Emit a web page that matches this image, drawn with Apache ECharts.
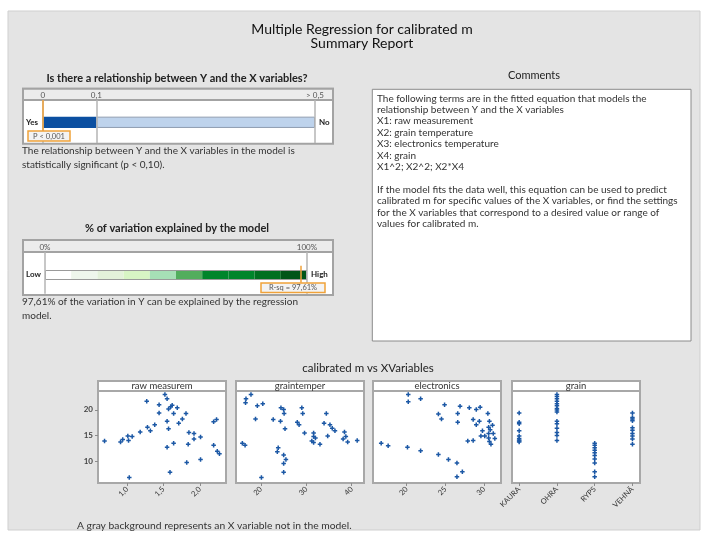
<!DOCTYPE html>
<html>
<head>
<meta charset="utf-8">
<script src="https://cdn.jsdelivr.net/npm/echarts@6/dist/echarts.min.js"></script>
<style>
  html, body { margin: 0; padding: 0; background: #ffffff; }
  #chart { width: 705px; height: 533px; }
</style>
</head>
<body>
<div id="chart"></div>
<script>
// ---- Model summary values ----
const pValue = 0.001;                 // reported as P < 0,001
const pScaleBreaks = [0, 0.1, 0.5];   // significance scale: 0 | 0,1 | > 0,5
const alpha = 0.10;
const rsq = 97.61;                    // R-sq in %
const rsqBandEdges = [0, 10, 20, 30, 40, 50, 60, 70, 80, 90, 100];

// ---- Comments ----
const commentLines = [
  'The following terms are in the fitted equation that models the',
  'relationship between Y and the X variables',
  'X1: raw measurement',
  'X2: grain temperature',
  'X3: electronics temperature',
  'X4: grain',
  'X1^2; X2^2; X2*X4',
  '',
  'If the model fits the data well, this equation can be used to predict',
  'calibrated m for specific values of the X variables, or find the settings',
  'for the X variables that correspond to a desired value or range of',
  'values for calibrated m.'
];

// ---- calibrated m vs X variables ----
const panelTitles = ['raw measurem', 'graintemper', 'electronics', 'grain'];
const yTicks = [10, 15, 20];

const rawMeasX = [1.52,1.55,1.27,1.44,1.62,1.60,1.57,1.69,1.44,1.64,1.81,1.76,1.71,1.55,2.23,2.19,1.38,1.28,1.32,1.57,1.18,1.07,1.01,1.02,0.94,0.91,0.69,1.85,1.92,2.01,1.92,1.84,1.64,1.55,2.19,2.24,2.27,1.82,2.01,1.59,1.03];
const rawMeasY = [23.0,22.2,21.7,21.0,20.9,20.6,20.2,20.4,19.4,19.3,19.3,18.2,17.4,17.8,18.1,17.7,17.1,16.6,15.9,16.3,15.7,14.8,14.9,14.0,14.2,13.7,13.9,15.6,15.4,14.7,14.3,13.3,13.5,12.7,13.1,11.9,11.4,9.7,10.3,7.8,6.8];
const rawMeasTicks = [1.0, 1.5, 2.0];

const grainTempX = [16.7,16.6,17.8,19.2,20.4,18.8,24.4,25.0,25.1,22.7,24.3,25.3,29.0,29.2,28.0,28.4,29.6,34.4,33.9,35.2,35.7,36.3,31.6,31.6,32.0,31.2,31.6,33.0,34.7,38.4,38.7,38.1,39.1,41.2,15.9,16.5,23.8,23.6,25.0,25.5,25.0,25.0,20.1];
const grainTempY = [22.2,21.4,23.0,20.8,21.2,18.2,20.4,20.1,19.3,18.1,17.8,16.3,20.4,19.3,17.6,17.1,15.5,19.3,17.4,17.1,16.4,15.9,15.5,14.8,14.5,13.9,13.6,13.3,14.9,15.7,14.8,14.3,13.7,14.0,13.5,13.1,12.6,11.8,11.2,10.3,9.5,7.8,6.8];
const grainTempTicks = [20, 30, 40];

const electronicsX = [20.2,20.2,21.8,24.9,26.9,28.1,29.0,29.5,24.1,24.5,26.6,26.6,30.5,28.6,29.4,29.0,30.7,31.1,30.6,30.8,29.8,31.2,30.6,29.6,30.1,31.4,30.6,30.7,30.9,28.6,27.9,16.7,17.6,20.1,21.8,24.1,25.4,26.5,27.2,26.5];
const electronicsY = [23.0,21.6,22.2,21.0,20.7,20.4,20.1,20.5,19.2,18.2,19.3,17.6,19.3,18.1,17.8,17.1,17.8,17.0,16.6,16.1,15.9,15.4,15.4,14.9,14.9,14.4,14.5,13.8,13.3,14.0,13.9,13.5,13.0,12.7,12.0,11.3,10.3,9.6,7.9,6.9];
const electronicsTicks = [20, 25, 30];

const grainNames = ['KAURA', 'OHRA', 'RYPS', 'VEHNÄ'];
const kauraY = [19.4,17.6,17.3,15.9,14.9,14.4,14.1,13.9,13.7];
const ohraY  = [23.0,22.6,22.2,21.7,21.2,20.8,20.3,20.0,19.6,17.8,17.3,16.4,15.6,15.0,14.0];
const rypsY  = [13.5,13.1,12.6,12.1,11.6,11.1,10.4,9.6,7.9,6.9];
const vehnaY = [19.4,18.5,18.2,17.9,16.5,16.0,15.4,14.9,14.3,13.3];

// ---- styling ----
const FONT = 'Lato, "Open Sans", sans-serif';
const BLUE = '#1c58a5';
const ORANGE = '#f0a23a';
const bandColors = ['#ffffff','#eef6ec','#e3f1da','#d7f4c4','#a6dfb6','#52ad5d','#00852b','#00852b','#006f20','#005518'];
const plusSymbol = 'path://M2 0H4V2H6V4H4V6H2V4H0V2H2Z';
const fmtComma = (v, d) => v.toFixed(d).replace('.', ',');

const chart = echarts.init(document.getElementById('chart'), null, { renderer: 'canvas' });

// panel geometry for the four scatter plots
const panelLeft = [98, 236, 373, 512];
const panelW = 128, panelTop = 391, panelH = 92, headerH = 10;

const grids = [
  { left: 42.7, top: 100, width: 53.6, height: 44.6 },   // p scale 0 .. 0,1
  { left: 96.3, top: 100, width: 218.7, height: 44.6 },  // p scale 0,1 .. 0,5
  { left: 45, top: 252, width: 262, height: 46 }          // R-sq scale
];
panelLeft.forEach(l => grids.push({
  left: l, top: panelTop, width: panelW, height: panelH,
  show: true, backgroundColor: '#ffffff', borderColor: '#a8a8a8', borderWidth: 2
}));

const topLabel = (values, fmt) => ({
  customValues: values, formatter: fmt, margin: 1, fontSize: 8, color: '#555',
  fontFamily: FONT, showMinLabel: true, showMaxLabel: true
});

const xAxes = [
  { gridIndex: 0, type: 'value', position: 'top', min: pScaleBreaks[0], max: pScaleBreaks[1],
    axisLine: { show: false }, axisTick: { show: false }, splitLine: { show: false },
    axisLabel: topLabel([pScaleBreaks[0], pScaleBreaks[1]], v => v === 0 ? '0' : fmtComma(v, 1)) },
  { gridIndex: 1, type: 'value', position: 'top', min: pScaleBreaks[1], max: pScaleBreaks[2],
    axisLine: { show: false }, axisTick: { show: false }, splitLine: { show: false },
    axisLabel: topLabel([pScaleBreaks[2]], v => '> ' + fmtComma(v, 1)) },
  { gridIndex: 2, type: 'value', position: 'top', min: rsqBandEdges[0], max: rsqBandEdges[rsqBandEdges.length - 1],
    axisLine: { show: false }, axisTick: { show: false }, splitLine: { show: false },
    axisLabel: topLabel([0, 100], v => v + '%') }
];

const scatterX = [
  { min: 0.6, max: 2.36, ticks: rawMeasTicks, fmt: v => fmtComma(v, 1) },
  { min: 14.5, max: 42.7, ticks: grainTempTicks, fmt: v => String(v) },
  { min: 15.64, max: 32.2, ticks: electronicsTicks, fmt: v => String(v) },
  { min: -0.19, max: 3.2, ticks: [0, 1, 2, 3], fmt: v => grainNames[v] }
];
scatterX.forEach((a, i) => xAxes.push({
  gridIndex: 3 + i, type: 'value', min: a.min, max: a.max,
  axisLine: { show: false }, splitLine: { show: false },
  axisTick: { show: true, customValues: a.ticks, length: 3, lineStyle: { color: '#8c8c8c' } },
  axisLabel: { customValues: a.ticks, formatter: a.fmt, rotate: 45, margin: 5, fontSize: 7.5,
    color: '#333', fontFamily: FONT }
}));

const hiddenCat = (g, name) => ({ gridIndex: g, type: 'category', data: [name], show: false });
const hiddenVal = g => ({ gridIndex: g, type: 'value', min: 0, max: 1, show: false });

const yAxes = [hiddenCat(0, 'p'), hiddenCat(1, 'p'), hiddenCat(2, 'r'),
               hiddenVal(0), hiddenVal(1), hiddenVal(2)];
panelLeft.forEach((l, i) => yAxes.push({
  gridIndex: 3 + i, type: 'value', min: 5.7, max: 23.7,
  axisLine: { show: false }, splitLine: { show: false },
  axisTick: { show: i === 0, customValues: yTicks, length: 3, lineStyle: { color: '#8c8c8c' } },
  axisLabel: { show: i === 0, customValues: yTicks, margin: 5, fontSize: 8, fontWeight: 'bold',
    color: '#444', fontFamily: FONT }
}));

// vertical marker segment on an auxiliary 0..1 axis
const seg = (x, y0, y1, color, width) => [
  { coord: [x, y0], lineStyle: { color: color, width: width, type: 'solid' } },
  { coord: [x, y1] }
];

const series = [];

// significance bar: "Yes" zone (0 .. 0,1) and "No" zone (0,1 .. 0,5)
series.push({ type: 'bar', xAxisIndex: 0, yAxisIndex: 0, barWidth: 11.3, silent: true,
  data: [pScaleBreaks[1] - pScaleBreaks[0]], itemStyle: { color: '#0b4fa1' } });
series.push({ type: 'bar', xAxisIndex: 1, yAxisIndex: 1, stack: 'p', barWidth: 11.3, silent: true,
  data: [pScaleBreaks[1]], itemStyle: { color: 'transparent' } });
series.push({ type: 'bar', xAxisIndex: 1, yAxisIndex: 1, stack: 'p', barWidth: 11.3, silent: true,
  data: [pScaleBreaks[2] - pScaleBreaks[1]],
  itemStyle: { color: '#bed3ec', borderColor: '#8f9db0', borderWidth: 1 } });

// scale lines + p marker
series.push({ type: 'line', xAxisIndex: 0, yAxisIndex: 3, data: [], silent: true,
  markLine: { symbol: 'none', silent: true, label: { show: false }, animation: false,
    data: [seg(pScaleBreaks[0], 0.036, 1, '#b5b5b5', 1.5),
           seg(pScaleBreaks[1], 0.036, 1, '#b5b5b5', 1.5),
           seg(pValue, 0.305, 1, ORANGE, 1.5)] } });
series.push({ type: 'line', xAxisIndex: 1, yAxisIndex: 4, data: [], silent: true,
  markLine: { symbol: 'none', silent: true, label: { show: false }, animation: false,
    data: [seg(pScaleBreaks[2], 0.036, 1, '#b5b5b5', 1.5)] } });

// R-sq colour bands
for (let i = 0; i < rsqBandEdges.length - 1; i++) {
  series.push({ type: 'bar', xAxisIndex: 2, yAxisIndex: 2, stack: 'r', barWidth: 10, silent: true,
    data: [rsqBandEdges[i + 1] - rsqBandEdges[i]], itemStyle: { color: bandColors[i] } });
}
series.push({ type: 'bar', xAxisIndex: 2, yAxisIndex: 2, barWidth: 10, barGap: '-100%', silent: true,
  data: [rsqBandEdges[rsqBandEdges.length - 1]],
  itemStyle: { color: 'transparent', borderColor: '#9a9a9a', borderWidth: 1 } });
series.push({ type: 'line', xAxisIndex: 2, yAxisIndex: 5, data: [], silent: true,
  markLine: { symbol: 'none', silent: true, label: { show: false }, animation: false,
    data: [seg(0, 0.09, 1, '#b5b5b5', 1.5),
           seg(100, 0.09, 1, '#b5b5b5', 1.5),
           seg(rsq, 0.33, 0.7, ORANGE, 1.5)] } });

// scatter panels
const zip = (xs, ys) => xs.map((x, i) => [x, ys[i]]);
const grainData = [];
[kauraY, ohraY, rypsY, vehnaY].forEach((ys, k) => ys.forEach(y => grainData.push([k, y])));
[zip(rawMeasX, rawMeasY), zip(grainTempX, grainTempY), zip(electronicsX, electronicsY), grainData]
  .forEach((d, i) => series.push({
    type: 'scatter', xAxisIndex: 3 + i, yAxisIndex: 6 + i, data: d, silent: true,
    symbol: plusSymbol, symbolSize: 4.5, itemStyle: { color: BLUE, opacity: 1 }
  }));

// ---- static layout: frames and text ----
const txt = (x, y, s, o, z) => Object.assign({ type: 'text', x: x, y: y, z: z || 10, silent: true,
  style: Object.assign({ text: s, fontFamily: FONT, fontSize: 10, fill: '#333',
    align: 'left', verticalAlign: 'middle' }, (o || {})) });
const rect = (x, y, w, h, fill, stroke, lw, z) => ({ type: 'rect', z: z, silent: true,
  shape: { x: x, y: y, width: w, height: h }, style: { fill: fill, stroke: stroke, lineWidth: lw } });

const graphic = [
  rect(8, 11, 692, 519, '#e4e4e4', '#cfcfcf', 1, -20),
  txt(362, 29, 'Multiple Regression for calibrated m', { fontSize: 14, fill: '#111', align: 'center' }),
  txt(362, 43, 'Summary Report', { fontSize: 14, fill: '#111', align: 'center' }),

  // relationship test
  txt(177, 78, 'Is there a relationship between Y and the X variables?', { fontSize: 11, fontWeight: 'bold', fill: '#222', align: 'center' }),
  rect(23, 88.7, 310, 55, '#ffffff', '#a3a3a3', 2, -10),
  rect(23, 88.7, 310, 11.3, '#ececec', '#a3a3a3', 2, -9),
  txt(26, 122.3, 'Yes', { fontSize: 8, fontWeight: 'bold', fill: '#222' }),
  txt(319, 122.3, 'No', { fontSize: 8, fontWeight: 'bold', fill: '#222' }),
  rect(28, 131, 42, 10, '#f3f3f3', ORANGE, 1.5, 20),
  txt(49, 136.2, 'P < ' + fmtComma(pValue, 3), { fontSize: 7.5, fill: '#555', align: 'center' }, 21),
  txt(22, 150.5, 'The relationship between Y and the X variables in the model is'),
  txt(22, 164.3, 'statistically significant (p < ' + fmtComma(alpha, 2) + ').'),

  // R-sq
  txt(177, 228.5, '% of variation explained by the model', { fontSize: 11, fontWeight: 'bold', fill: '#222', align: 'center' }),
  rect(23, 240, 310, 55, '#ffffff', '#a3a3a3', 2, -10),
  rect(23, 240, 310, 12, '#ececec', '#a3a3a3', 2, -9),
  txt(26, 274.5, 'Low', { fontSize: 8, fontWeight: 'bold', fill: '#222' }),
  txt(311, 274.5, 'High', { fontSize: 8, fontWeight: 'bold', fill: '#222' }),
  rect(261, 283, 64, 9.5, '#f3f3f3', ORANGE, 1.5, 20),
  txt(293, 287.8, 'R-sq = ' + fmtComma(rsq, 2) + '%', { fontSize: 7.5, fill: '#555', align: 'center' }, 21),
  txt(22, 301.5, fmtComma(rsq, 2) + '% of the variation in Y can be explained by the regression'),
  txt(22, 315.5, 'model.'),

  // comments
  txt(534, 75, 'Comments', { fontSize: 11, fill: '#222', align: 'center' }),
  rect(372.3, 89.3, 318.7, 251.7, '#ffffff', '#8a8a8a', 1, -10),
  { type: 'text', x: 377, y: 92.6, z: 10, silent: true,
    style: { text: commentLines.join('\n'), fontFamily: FONT, fontSize: 10, fill: '#333',
      lineHeight: 11.4, align: 'left', verticalAlign: 'top' } },

  // scatter section
  txt(368, 368.5, 'calibrated m vs XVariables', { fontSize: 11.5, fill: '#222', align: 'center' }),
  txt(77, 525.5, 'A gray background represents an X variable not in the model.', { fontSize: 10.3 })
];
panelLeft.forEach((l, i) => {
  graphic.push(rect(l, panelTop - headerH, panelW, headerH, '#ffffff', '#a8a8a8', 2, -5));
  graphic.push(txt(l + panelW / 2, panelTop - headerH / 2 - 0.5, panelTitles[i],
    { fontSize: 9.5, fill: '#333', align: 'center' }));
});

chart.setOption({
  animation: false,
  backgroundColor: '#ffffff',
  textStyle: { fontFamily: FONT },
  grid: grids,
  xAxis: xAxes,
  yAxis: yAxes,
  series: series,
  graphic: graphic
});
</script>
</body>
</html>
